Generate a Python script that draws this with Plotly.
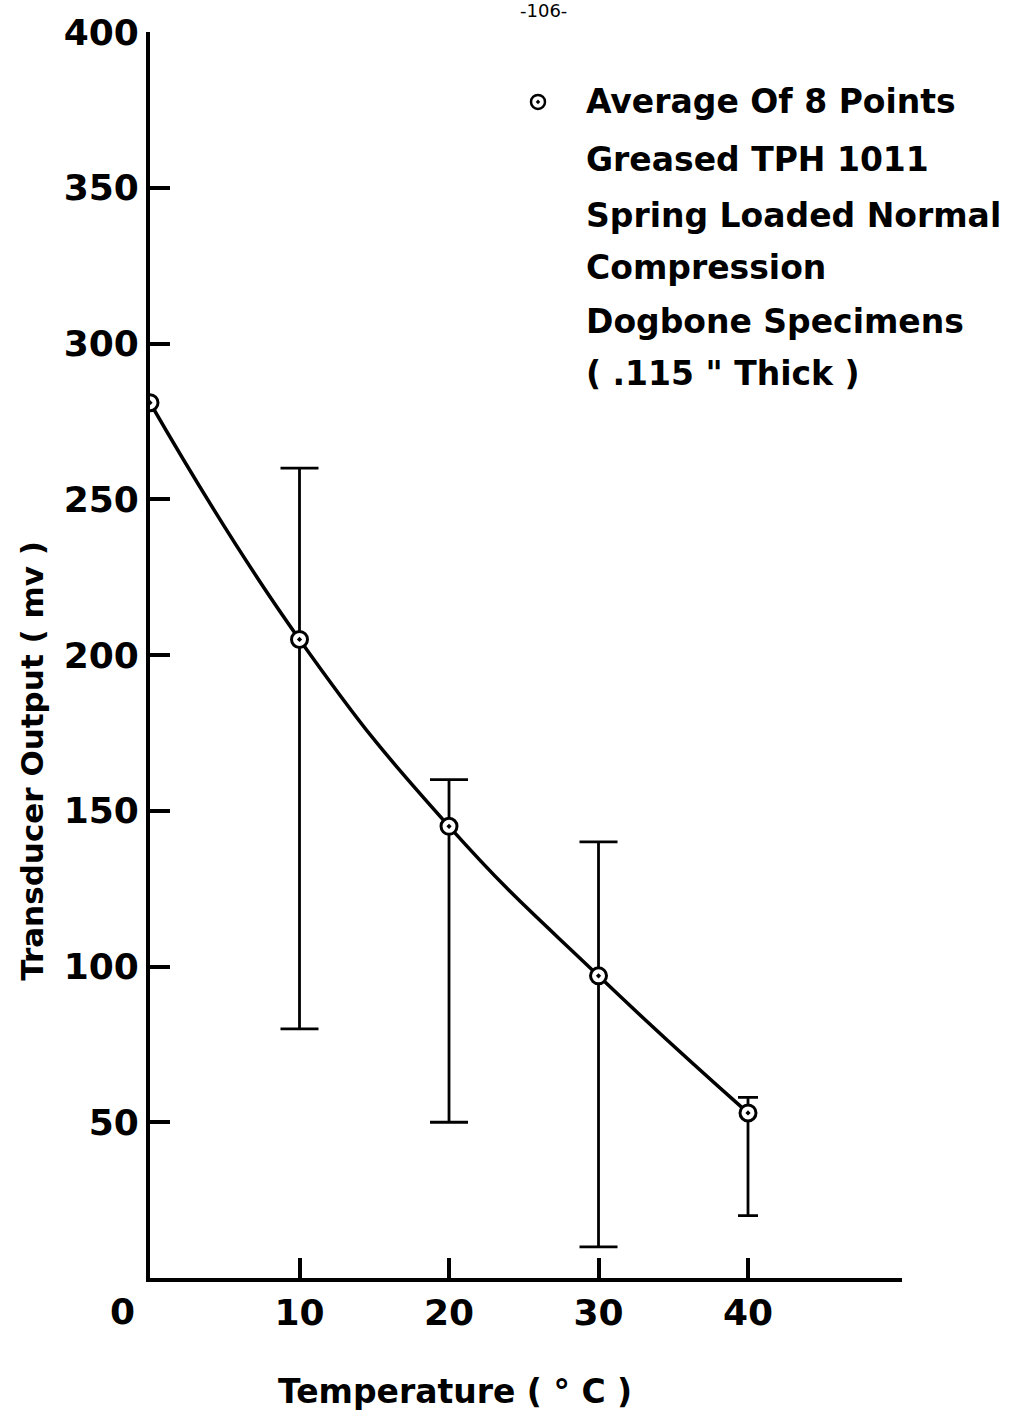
import plotly.graph_objects as go

temps = [0, 10, 20, 30, 40]
outputs = [281, 205, 145, 97, 53]
err_x = [10, 20, 30]
err_up = [260, 160, 140]
err_lo = [80, 50, 10]
err_x2 = [40]
err_up2 = [58]
err_lo2 = [20]
x_ticks = [10, 20, 30, 40, 50.3]
x_ticktext = ["<b>10</b>", "<b>20</b>", "<b>30</b>", "<b>40</b>", ""]
y_ticks = [50, 100, 150, 200, 250, 300, 350, 400]
y_ticktext = ["<b>%d</b>" % v for v in y_ticks]
legend_lines = ["Average Of 8 Points", "Greased TPH 1011", "Spring Loaded Normal",
                "Compression", "Dogbone Specimens", "( .115 \" Thick )"]

FONT = "DejaVu Sans"
fig = go.Figure()

def add_err(xs, up, lo, mid, width):
    fig.add_trace(go.Scatter(
        x=xs, y=mid, mode="markers", marker=dict(size=1, color="rgba(0,0,0,0)"),
        error_y=dict(type="data", symmetric=False,
                     array=[u - m for u, m in zip(up, mid)],
                     arrayminus=[m - l for m, l in zip(mid, lo)],
                     color="black", thickness=2.8, width=width),
        showlegend=False, hoverinfo="skip"))

mid1 = [outputs[temps.index(x)] for x in err_x]
mid2 = [outputs[temps.index(x)] for x in err_x2]
add_err(err_x, err_up, err_lo, mid1, 19)
add_err(err_x2, err_up2, err_lo2, mid2, 10)

fig.add_trace(go.Scatter(
    x=temps, y=outputs, mode="lines", line=dict(color="black", width=3.5, shape="spline", smoothing=1.3),
    showlegend=False, hoverinfo="skip"))
fig.add_trace(go.Scatter(
    x=temps, y=outputs, mode="markers",
    marker=dict(symbol="circle-dot", size=16, color="white", line=dict(color="black", width=3)),
    showlegend=False))

fig.update_layout(
    width=1012, height=1416,
    margin=dict(l=150, r=110, t=30, b=138),
    plot_bgcolor="white", paper_bgcolor="white",
    font=dict(family=FONT, color="black", size=36),
    xaxis=dict(range=[0, 50.3], showline=True, linecolor="black", linewidth=4,
               ticks="inside", ticklen=20, tickwidth=3.5, tickcolor="black",
               tickvals=x_ticks, ticktext=x_ticktext, showgrid=False, zeroline=False,
               tickfont=dict(size=36)),
    yaxis=dict(range=[0, 400], showline=True, linecolor="black", linewidth=4,
               ticks="inside", ticklen=20, tickwidth=3.5, tickcolor="black",
               tickvals=y_ticks, ticktext=y_ticktext, showgrid=False, zeroline=False,
               tickfont=dict(size=36)),
)

def px(xp, yp):
    return (xp - 150) / (1012 - 260), (1278 - yp) / (1416 - 168)

ax, ay = px(122, 1312)
fig.add_annotation(text="<b>0</b>", x=ax, y=ay, xref="paper", yref="paper", showarrow=False,
                   font=dict(size=36), xanchor="center", yanchor="middle")

tx, ty = px(455, 1392)
fig.add_annotation(text="<b>Temperature ( ° C )</b>", x=tx, y=ty, xref="paper", yref="paper",
                   showarrow=False, font=dict(size=33), xanchor="center", yanchor="middle")
yx, yy = px(32, 760)
fig.add_annotation(text="<b>Transducer Output ( mv )</b>", x=yx, y=yy, xref="paper", yref="paper",
                   showarrow=False, font=dict(size=31), textangle=-90,
                   xanchor="center", yanchor="middle")
hx, hy = px(543, 8)
fig.add_annotation(text="-106-", x=hx, y=hy, xref="paper", yref="paper",
                   showarrow=False, font=dict(size=18), xanchor="center", yanchor="middle")

line_y = [100, 158, 214, 266, 320, 372]
for txt, ly in zip(legend_lines, line_y):
    lx, lyy = px(584, ly)
    fig.add_annotation(text="<b>%s</b>" % txt, x=lx, y=lyy, xref="paper", yref="paper",
                       showarrow=False, font=dict(size=33), xanchor="left", yanchor="middle")

mx = 50.3 * (538 - 150) / 752
my = 400 * (1278 - 100) / 1248
fig.add_trace(go.Scatter(x=[mx], y=[my], mode="markers",
                         marker=dict(symbol="circle-dot", size=14, color="white",
                                     line=dict(color="black", width=2.5)),
                         showlegend=False, cliponaxis=False))

fig.write_html("out.html")
